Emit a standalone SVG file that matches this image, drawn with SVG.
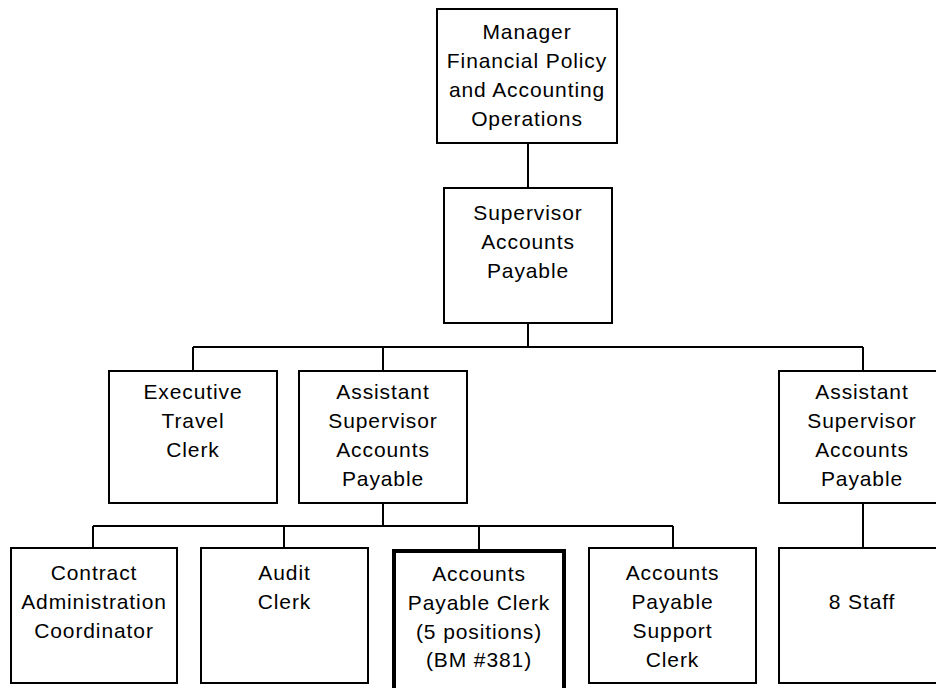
<svg xmlns="http://www.w3.org/2000/svg" width="936" height="688" viewBox="0 0 936 688">
<style>
.box{fill:#fff;stroke:#000;stroke-width:2}
.thick{fill:#fff;stroke:#000;stroke-width:4}
.conn{fill:none;stroke:#000;stroke-width:2}
text{font-family:"Liberation Sans",Arial,sans-serif;font-size:21px;letter-spacing:0.9px;text-anchor:middle;fill:#000}
</style>
<rect width="936" height="688" fill="#fff"/>
<g id="connectors">
<path class="conn" d="M528 143V188M528 323V347M193 347H863M193 347V371M383 347V371M863 347V371M383 503V526M93 526H673M93 526V548M284 526V548M479 526V551M673 526V548M863 503V548"/>
</g>
<g id="manager">
<rect class="box" x="437" y="9" width="180" height="134"/>
<text x="527" y="39">Manager</text>
<text x="527" y="68">Financial Policy</text>
<text x="527" y="97">and Accounting</text>
<text x="527" y="126">Operations</text>
</g>
<g id="supervisor">
<rect class="box" x="444" y="188" width="168" height="135"/>
<text x="528" y="220">Supervisor</text>
<text x="528" y="249">Accounts</text>
<text x="528" y="278">Payable</text>
</g>
<g id="executive-travel-clerk">
<rect class="box" x="109" y="371" width="168" height="132"/>
<text x="193" y="399">Executive</text>
<text x="193" y="428">Travel</text>
<text x="193" y="457">Clerk</text>
</g>
<g id="assistant-supervisor-1">
<rect class="box" x="299" y="371" width="168" height="132"/>
<text x="383" y="399">Assistant</text>
<text x="383" y="428">Supervisor</text>
<text x="383" y="457">Accounts</text>
<text x="383" y="486">Payable</text>
</g>
<g id="assistant-supervisor-2">
<rect class="box" x="779" y="371" width="166" height="132"/>
<text x="862" y="399">Assistant</text>
<text x="862" y="428">Supervisor</text>
<text x="862" y="457">Accounts</text>
<text x="862" y="486">Payable</text>
</g>
<g id="contract-admin">
<rect class="box" x="11" y="548" width="166" height="135"/>
<text x="94" y="580">Contract</text>
<text x="94" y="609">Administration</text>
<text x="94" y="638">Coordinator</text>
</g>
<g id="audit-clerk">
<rect class="box" x="201" y="548" width="167" height="135"/>
<text x="284.5" y="580">Audit</text>
<text x="284.5" y="609">Clerk</text>
</g>
<g id="ap-clerk">
<rect class="thick" x="394" y="551" width="170" height="150"/>
<text x="479" y="581">Accounts</text>
<text x="479" y="610">Payable Clerk</text>
<text x="479" y="639">(5 positions)</text>
<text x="479" y="667">(BM #381)</text>
</g>
<g id="ap-support-clerk">
<rect class="box" x="589" y="548" width="167" height="135"/>
<text x="672.5" y="580">Accounts</text>
<text x="672.5" y="609">Payable</text>
<text x="672.5" y="638">Support</text>
<text x="672.5" y="667">Clerk</text>
</g>
<g id="eight-staff">
<rect class="box" x="779" y="548" width="166" height="135"/>
<text x="862" y="609">8 Staff</text>
</g>
</svg>
